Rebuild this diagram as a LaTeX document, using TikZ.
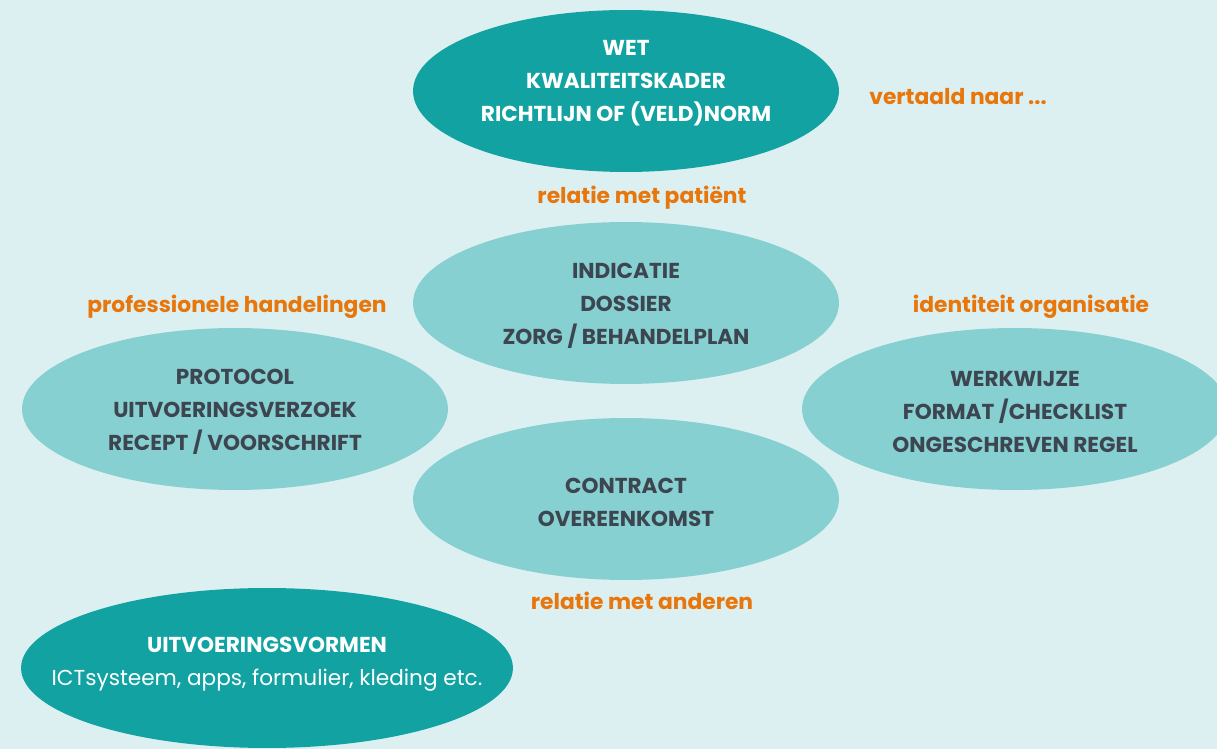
\documentclass[tikz,border=0pt]{standalone}
\usepackage{fontspec}
\setmainfont{Poppins}
\usepackage{tikz}
\usetikzlibrary{shapes.geometric}
\definecolor{bgcyan}{HTML}{DCF0F1}
\definecolor{darkteal}{HTML}{12A2A2}
\definecolor{lightteal}{HTML}{86D0D1}
\definecolor{greytext}{HTML}{3D4650}
\definecolor{labelorange}{HTML}{E8760A}
\tikzstyle{blob} = [ellipse, inner sep=0pt, minimum width=8.52cm, minimum height=3.24cm]
\tikzstyle{dark} = [blob, fill=darkteal]
\tikzstyle{light} = [blob, fill=lightteal]
\tikzstyle{words} = [align=center, yshift=-0.06cm, font=\bfseries\fontsize{12.3}{18.7}\selectfont]
\tikzstyle{whitewords} = [words, text=white]
\tikzstyle{greywords} = [words, text=greytext]
\tikzstyle{tag} = [text=labelorange, font=\bfseries\fontsize{12.4}{14}\selectfont]

\begin{document}
\begin{tikzpicture}[x=0.02cm, y=-0.02cm]
  \useasboundingbox (0,0) rectangle (1217,749);
  \clip (0,0) rectangle (1217,749);
  \fill [bgcyan] (0,0) rectangle (1217,749);
  \node (wet) at (626,91) [dark, label={[whitewords, yshift=0.22cm]center:WET\\KWALITEITSKADER\\RICHTLIJN OF (VELD)NORM}] {};
  \node (indicatie) at (626,303) [light, label={[greywords]center:INDICATIE\\DOSSIER\\ZORG / BEHANDELPLAN}] {};
  \node (protocol) at (235,409) [light, label={[greywords]center:PROTOCOL\\UITVOERINGSVERZOEK\\RECEPT / VOORSCHRIFT}] {};
  \node (werkwijze) at (1015,409) [light, label={[greywords]center:WERKWIJZE\\FORMAT /CHECKLIST\\ONGESCHREVEN REGEL}] {};
  \node (contract) at (626,499) [light, label={[greywords]center:CONTRACT\\OVEREENKOMST}] {};
  \node (vormen) at (267,668) [dark, minimum width=9.84cm, minimum height=3.2cm,
    label={[whitewords, yshift=0.14cm]center:UITVOERINGSVORMEN\\{\mdseries ICTsysteem, apps, formulier, kleding etc.}}] {};
  \node (vertaald) at (958,97) [tag] {vertaald naar ...};
  \node (patient) at (642,198) [tag] {relatie met patiënt};
  \node (handelingen) at (237,307) [tag] {professionele handelingen};
  \node (organisatie) at (1031,307) [tag] {identiteit organisatie};
  \node (anderen) at (642,601) [tag] {relatie met anderen};
\end{tikzpicture}
\end{document}
